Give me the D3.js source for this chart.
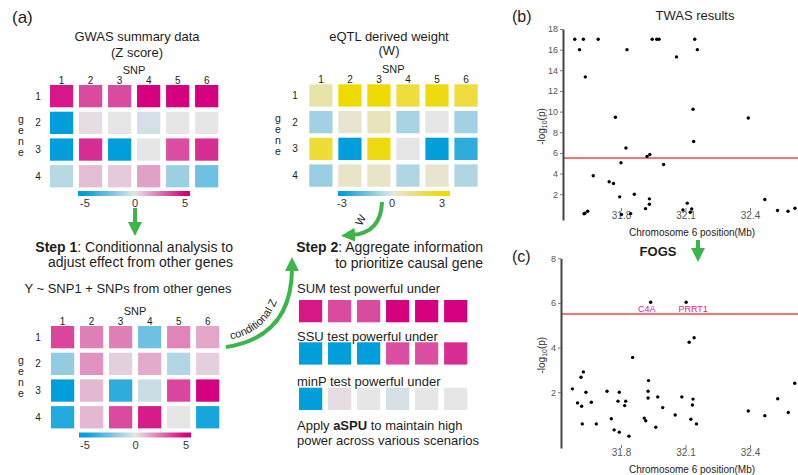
<!DOCTYPE html>
<html>
<head>
<meta charset="utf-8">
<script src="https://cdn.jsdelivr.net/npm/d3@7"></script>
<style>
  body { margin: 0; background: #fff; }
  svg { display: block; font-family: "Liberation Sans", Arial, sans-serif; }
</style>
</head>
<body>
<svg id="fig" width="798" height="475"></svg>
<script>
// ---- data ----
const snps = [1, 2, 3, 4, 5, 6];
const genes = [1, 2, 3, 4];

// GWAS Z scores, one row per gene
const gwasZ = [
  [4.5, 3.4, 3.4, 5, 5, 5],
  [-5, 0.2, 0, -0.4, 0, 0],
  [-5, 4, -5, 0, 3.3, 4],
  [-1, 0.9, 0.6, 1.5, -1.6, -2.6]
];
// eQTL weights
const eqtlW = [
  [0.8, 3, 3, 2.2, 2.8, 2.2],
  [-0.9, 0.3, 0.6, -0.8, 0, -0.9],
  [2.3, -3, 2.8, 0, -3, -2.4],
  [-1, 0.4, 0.4, -0.7, 0.3, -0.7]
];
// conditional Z
const condZ = [
  [3.5, 2.2, 2.2, -2.6, 2.1, 1.4],
  [-1.8, 1.8, 0.5, 1.3, -1.1, 0.5],
  [-5, 1, -4, -0.6, 3.5, 5],
  [-4.2, 1, 3.4, 4.4, 0, -4.5]
];
// scenario rows
const sumRow = [4.5, 3.4, 3.4, 5, 5, 5];
const ssuRow = [-5, -5, -5, 3.3, 3.3, 4];
const minpRow = [-5, 0.2, 0, -0.4, 0, 0];

const zTicks = [-5, 0, 5];
const wTicks = [-3, 0, 3];

// TWAS results: position (Mb) and -log10(p)
const twasPos = [31.585, 31.607, 31.625, 31.634, 31.694, 31.628, 31.632, 31.645, 31.671, 31.774,
  31.828, 31.745, 31.765, 31.794, 31.800, 31.823, 31.802, 31.845, 31.862, 31.921,
  31.934, 31.945, 31.966, 31.977, 31.932, 31.932, 31.914, 31.998, 32.058, 32.143,
  32.155, 32.135, 32.138, 32.088, 32.108, 32.122, 32.129, 32.392, 32.469, 32.528,
  32.577, 32.609];
const twasP = [17, 16, 17, 13.36, 17, 0.1, 0.15, 0.35, 3.78, 9.45,
  16, 3.2, 3.04, 1.74, 5.04, 6.47, 0.03, 0.12, 2.0, 5.66,
  5.85, 17, 17, 17, 1.55, 1.03, 0.6, 4.88, 15.3, 17,
  16, 10.22, 7.1, 0.48, 1.13, 0.25, 0.57, 9.38, 1.49, 0.42,
  0.35, 0.64];

// FOGS results
const fogsPos = [31.574, 31.598, 31.614, 31.625, 31.617, 31.637, 31.620, 31.662, 31.685, 31.735,
  31.755, 31.768, 31.792, 31.786, 31.792, 31.822, 31.817, 31.837, 31.854, 31.908,
  31.915, 31.928, 31.926, 31.926, 31.938, 31.962, 31.971, 31.994, 32.052, 32.083,
  32.103, 32.117, 32.140, 32.135, 32.132, 32.125, 32.151, 32.392, 32.469, 32.529,
  32.578, 32.608];
const fogsP = [2.15, 1.52, 2.67, 2.91, 1.37, 2.0, 0.58, 1.55, 0.58, 2.04,
  0.81, 0.31, 0.21, 1.6, 2.0, 1.6, 1.4, 0.03, 3.56, 0.84,
  0.72, 2.52, 2.04, 1.74, 6.03, 0.43, 1.79, 1.31, 0.98, 1.79,
  6.03, 4.24, 4.44, 1.69, 1.43, 0.79, 0.58, 1.16, 0.95, 1.71,
  1.09, 2.4];
const fogsGenes = [{ name: 'C4A', idx: 24, dx: -4 }, { name: 'PRRT1', idx: 30, dx: 7 }];

const xTicks = [31.8, 32.1, 32.4];
const threshold = 5.5;

// ---- drawing ----
const svg = d3.select('#fig');
const ink = '#1e1e1e';
const green = '#3cb54a';

const zColor = d3.scaleLinear().domain([-5, 0, 5]).range(['#009fdb', '#e6e6e6', '#d5007e']).clamp(true);
const wColor = d3.scaleLinear().domain([-3, 0, 3]).range(['#009fdb', '#e6e6e6', '#efda00']).clamp(true);

const defs = svg.append('defs');
defs.append('marker')
  .attr('id', 'head')
  .attr('markerUnits', 'userSpaceOnUse')
  .attr('markerWidth', 15).attr('markerHeight', 14)
  .attr('refX', 3).attr('refY', 7)
  .attr('orient', 'auto')
  .append('path').attr('d', 'M0,0 L14,7 L0,14 Z').attr('fill', green);

function heatmap(values, color, x0, y0, labelX, geneX) {
  const g = svg.append('g');
  const x = d3.scaleBand().domain(snps).range([x0, x0 + 168.3]).paddingInner(0.2);
  const y = d3.scaleBand().domain(genes).range([y0, y0 + 102.4]).paddingInner(0.165);
  values.forEach((row, i) => {
    g.selectAll(null).data(row).join('rect')
      .attr('x', (d, j) => x(snps[j]))
      .attr('y', y(genes[i]))
      .attr('width', x.bandwidth())
      .attr('height', y.bandwidth())
      .attr('fill', d => color(d));
  });
  g.selectAll('.coln').data(snps).join('text')
    .attr('x', d => x(d) + x.bandwidth() / 2)
    .attr('y', y0 - 1)
    .attr('text-anchor', 'middle')
    .attr('font-size', 10).attr('fill', ink)
    .text(d => d);
  g.append('text')
    .attr('x', x0 + 84).attr('y', y0 - 11)
    .attr('text-anchor', 'middle').attr('font-size', 11).attr('fill', ink)
    .text('SNP');
  g.selectAll('.rown').data(genes).join('text')
    .attr('x', labelX)
    .attr('y', d => y(d) + y.bandwidth() / 2 + 3.5)
    .attr('text-anchor', 'middle')
    .attr('font-size', 10).attr('fill', ink)
    .text(d => d);
  // stacked "gene" label, one text element written top to bottom
  g.append('text')
    .attr('x', geneX)
    .attr('y', y0 + 50)
    .attr('text-anchor', 'middle')
    .attr('font-size', 10.5).attr('fill', ink)
    .style('writing-mode', 'vertical-rl')
    .style('text-orientation', 'upright')
    .style('letter-spacing', '-1px')
    .text('gene');
}

function colorbar(color, ticks, tx0, tx1, bx0, bx1, by, id) {
  const s = d3.scaleLinear().domain([ticks[0], ticks[ticks.length - 1]]).range([tx0, tx1]);
  const grad = defs.append('linearGradient').attr('id', id)
    .attr('gradientUnits', 'userSpaceOnUse')
    .attr('x1', bx0).attr('x2', bx1).attr('y1', 0).attr('y2', 0);
  d3.range(0, 1.0001, 0.05).forEach(t => {
    grad.append('stop').attr('offset', t).attr('stop-color', color(s.invert(bx0 + t * (bx1 - bx0))));
  });
  svg.append('rect').attr('x', bx0).attr('y', by).attr('width', bx1 - bx0).attr('height', 5)
    .attr('fill', `url(#${id})`);
  svg.append('g').selectAll('text').data(ticks).join('text')
    .attr('x', d => s(d)).attr('y', by + 16)
    .attr('text-anchor', 'middle').attr('font-size', 11).attr('fill', '#333')
    .text(d => d);
}

function stripe(values, y0) {
  const x = d3.scaleBand().domain(snps).range([299, 299 + 168.3]).paddingInner(0.2);
  svg.append('g').selectAll('rect').data(values).join('rect')
    .attr('x', (d, j) => x(snps[j])).attr('y', y0)
    .attr('width', x.bandwidth()).attr('height', 22.3)
    .attr('fill', d => zColor(d));
}

function text(x, y, str, size, anchor, weight) {
  return svg.append('text').attr('x', x).attr('y', y)
    .attr('font-size', size).attr('text-anchor', anchor || 'start')
    .attr('font-weight', weight || 'normal').attr('fill', ink).text(str);
}

// panel (a)
text(12, 23, '(a)', 17);
text(137, 41, 'GWAS summary data', 13, 'middle');
text(137, 57, '(Z score)', 13, 'middle');
text(389, 41, 'eQTL derived weight', 13, 'middle');
text(389, 55, '(W)', 13, 'middle');

heatmap(gwasZ, zColor, 50, 85, 38, 21);
heatmap(eqtlW, wColor, 309.3, 84.3, 295, 278);
heatmap(condZ, zColor, 51, 326, 38, 21);

colorbar(zColor, zTicks, 85, 185, 78, 190, 191, 'gz');
colorbar(wColor, wTicks, 342, 442, 338, 450, 191, 'gw');
colorbar(zColor, zTicks, 85, 186, 79, 191, 432.5, 'gc');

const s1 = text(233, 251.5, '', 14, 'end');
s1.append('tspan').attr('font-weight', 'bold').text('Step 1');
s1.append('tspan').text(': Conditionnal analysis to');
text(233, 266.5, 'adjust effect from other genes', 14, 'end');
text(128, 293, 'Y ~ SNP1 + SNPs from other genes', 13, 'middle');

const s2 = text(483, 251.5, '', 14, 'end');
s2.append('tspan').attr('font-weight', 'bold').text('Step 2');
s2.append('tspan').text(': Aggregate information');
text(483, 267.5, 'to prioritize causal gene', 14, 'end');

text(297, 293, 'SUM test powerful under', 13);
stripe(sumRow, 300);
text(297, 340.5, 'SSU test powerful under', 13);
stripe(ssuRow, 342.3);
text(297, 386, 'minP test powerful under', 13);
stripe(minpRow, 387.7);
const ap = text(297, 430, '', 13);
ap.append('tspan').text('Apply ');
ap.append('tspan').attr('font-weight', 'bold').text('aSPU');
ap.append('tspan').text(' to maintain high');
text(297, 444.5, 'power across various scenarios', 13);

// green arrows
function arrow(d) {
  svg.append('path').attr('d', d).attr('fill', 'none')
    .attr('stroke', green).attr('stroke-width', 4)
    .attr('marker-end', 'url(#head)');
}
arrow('M135,208 L135,225');
arrow('M382,202 Q381,233 352,235');
arrow('M226,347 Q292,337 292,268');
arrow('M698,240 L698,251');

svg.append('text').attr('font-size', 11).attr('fill', ink)
  .attr('transform', 'translate(364,222) rotate(-62)')
  .attr('text-anchor', 'middle').text('W');
defs.append('path').attr('id', 'condPath').attr('d', 'M229,340 Q280,330 284,268');
svg.append('text').attr('font-size', 11).attr('fill', ink)
  .append('textPath').attr('href', '#condPath').attr('startOffset', 2)
  .text('conditional Z');

// scatter panels
function scatter(pos, vals, yMax, yTop, yBot, axisX, xAxisY) {
  const x = d3.scaleLinear().domain([31.8, 32.4]).range([621, 750]);
  const y = d3.scaleLinear().domain([-0.5, yMax]).range([yBot, yTop]);
  const g = svg.append('g');

  g.append('line').attr('x1', axisX).attr('x2', 798)
    .attr('y1', y(threshold)).attr('y2', y(threshold))
    .attr('stroke', '#f0464a').attr('stroke-width', 1.5);

  const ya = g.append('g').attr('transform', `translate(${axisX},0)`)
    .call(d3.axisLeft(y).tickValues(d3.range(2, yMax + 0.1, 2)).tickSize(3).tickPadding(2).tickSizeOuter(0));
  ya.select('.domain').attr('stroke', '#444').attr('stroke-width', 2);
  ya.selectAll('line').attr('stroke', '#777');
  ya.selectAll('text').attr('font-size', 9).attr('fill', '#555').attr('font-family', null);

  const xa = g.append('g').attr('transform', `translate(0,${xAxisY})`)
    .call(d3.axisBottom(x).tickValues(xTicks).tickSize(3).tickPadding(1).tickFormat(d3.format('.1f')));
  xa.select('.domain').remove();
  xa.selectAll('line').attr('stroke', '#777');
  xa.selectAll('text').attr('font-size', 10).attr('fill', '#555').attr('font-family', null);

  g.selectAll('circle').data(pos).join('circle')
    .attr('cx', d => x(d)).attr('cy', (d, i) => y(vals[i]))
    .attr('r', 1.7).attr('fill', '#000');

  g.append('text').attr('x', 692).attr('y', xAxisY + 28)
    .attr('text-anchor', 'middle').attr('font-size', 10).attr('fill', '#222')
    .text('Chromosome 6 position(Mb)');

  const yl = g.append('text').attr('text-anchor', 'middle').attr('font-size', 10).attr('fill', '#333')
    .attr('transform', `translate(545,${(yTop + yBot) / 2 + 2}) rotate(-90)`);
  yl.append('tspan').text('-log');
  yl.append('tspan').attr('font-size', 7).attr('dy', 2).text('10');
  yl.append('tspan').attr('dy', -2).text('(p)');
  return { x, y, g };
}

text(512, 22, '(b)', 16);
text(695, 20, 'TWAS results', 13, 'middle');
scatter(twasPos, twasP, 18, 29, 220, 563, 208);

text(512, 262, '(c)', 16);
text(658, 256, 'FOGS', 13, 'middle', 'bold');
const fc = scatter(fogsPos, fogsP, 8, 258.3, 448, 561, 445);
fc.g.selectAll('.gene').data(fogsGenes).join('text')
  .attr('x', d => fc.x(fogsPos[d.idx]) + d.dx)
  .attr('y', d => fc.y(fogsP[d.idx]) + 10)
  .attr('text-anchor', 'middle').attr('font-size', 9).attr('fill', '#e0228f')
  .text(d => d.name);
</script>
</body>
</html>
